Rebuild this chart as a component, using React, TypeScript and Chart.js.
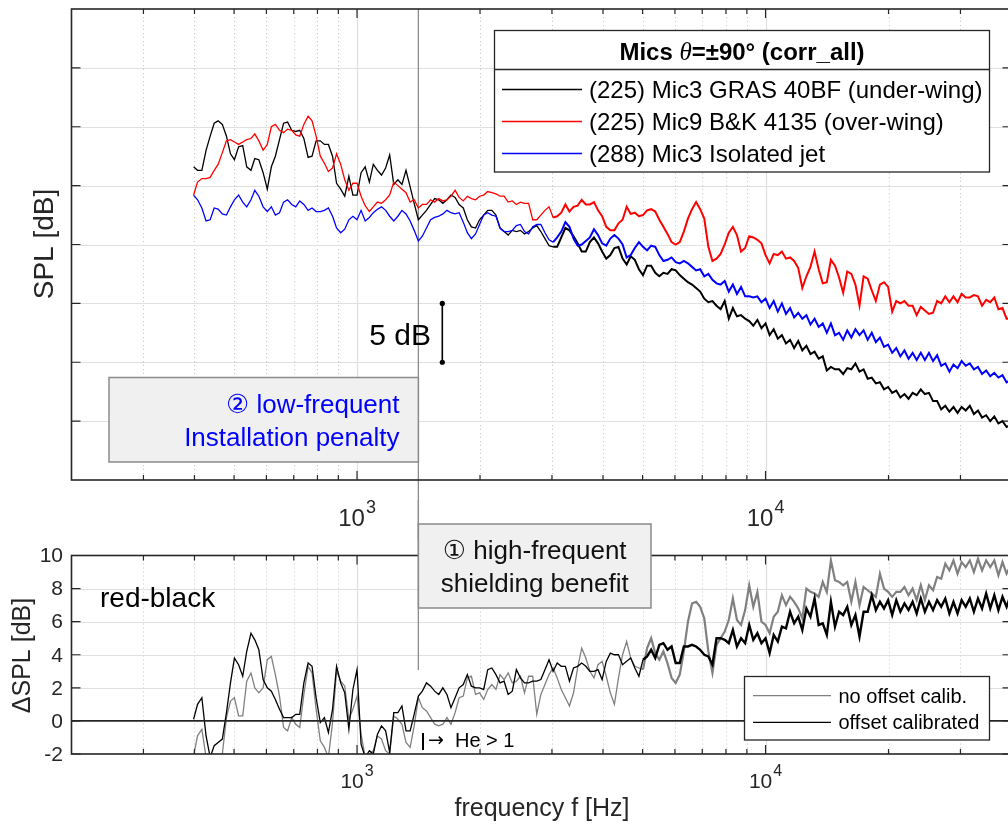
import React, { useEffect, useRef } from "react";
import { Chart, registerables } from "chart.js";

Chart.register(...registerables);

// ---------------- data ----------------
const FREQ_HZ = [
  398, 407, 417, 427, 437, 447, 457, 468, 479, 490,
  501, 513, 525, 537, 550, 562, 575, 589, 603, 617,
  631, 646, 661, 676, 692, 708, 724, 741, 759, 776,
  794, 813, 832, 851, 871, 891, 912, 933, 955, 977,
  1000, 1023, 1047, 1072, 1096, 1122, 1148, 1175, 1202, 1230,
  1259, 1288, 1318, 1349, 1380, 1413, 1445, 1479, 1514, 1549,
  1585, 1622, 1660, 1698, 1738, 1778, 1820, 1862, 1905, 1950,
  1995, 2042, 2089, 2138, 2188, 2239, 2291, 2344, 2399, 2455,
  2512, 2570, 2630, 2692, 2754, 2818, 2884, 2951, 3020, 3090,
  3162, 3236, 3311, 3388, 3467, 3548, 3631, 3715, 3802, 3890,
  3981, 4074, 4169, 4266, 4365, 4467, 4571, 4677, 4786, 4898,
  5012, 5129, 5248, 5370, 5495, 5623, 5754, 5888, 6026, 6166,
  6310, 6457, 6607, 6761, 6918, 7079, 7244, 7413, 7586, 7762,
  7943, 8128, 8318, 8511, 8710, 8913, 9120, 9333, 9550, 9772,
  10000, 10233, 10471, 10715, 10965, 11220, 11482, 11749, 12023, 12303,
  12589, 12882, 13183, 13490, 13804, 14125, 14454, 14791, 15136, 15488,
  15849, 16218, 16596, 16982, 17378, 17783, 18197, 18621, 19055, 19498,
  19953, 20417, 20893, 21380, 21878, 22387, 22909, 23442, 23988, 24547,
  25119, 25704, 26303, 26915, 27542, 28184, 28840, 29512, 30200, 30903,
  31623, 32359, 33113, 33884, 34674, 35481, 36308, 37154, 38019, 38905,
  39811,
];

// (225) Mic3 GRAS 40BF (under-wing)  [dB]
const SPL_UNDER_WING = [
  66.6, 66.3, 66.3, 68.0, 69.2, 70.3, 70.5, 70.2, 69.2, 67.7,
  67.2, 68.3, 68.4, 66.6, 66.3, 67.3, 67.2, 66.1, 64.7, 66.6,
  67.5, 68.9, 70.3, 70.4, 69.7, 69.6, 69.7, 69.0, 67.4, 67.5,
  68.8, 68.8, 68.5, 68.5, 67.5, 65.2, 64.7, 64.1, 65.8, 64.2,
  64.2, 66.1, 66.6, 65.3, 66.8, 66.3, 65.9, 66.5, 67.6, 65.1,
  65.5, 65.1, 66.3, 64.9, 63.5, 62.1, 62.5, 62.9, 63.4, 63.9,
  63.8, 63.5, 63.8, 64.2, 64.0, 63.4, 63.1, 62.1, 61.5, 61.4,
  62.1, 62.5, 62.9, 62.9, 62.5, 61.4, 61.1, 60.8, 61.2, 61.1,
  61.2, 60.9, 61.1, 61.4, 61.6, 61.1, 60.5, 59.9, 59.8, 59.8,
  60.6, 61.4, 61.2, 60.7, 60.1, 59.4, 59.4, 60.2, 60.6, 60.1,
  59.4, 58.8, 59.1, 59.7, 59.8, 58.8, 58.3, 59.0, 58.7, 57.9,
  57.4, 58.2, 58.2, 57.6, 57.3, 57.6, 57.5, 57.9, 57.8, 57.4,
  57.1, 56.8, 56.6, 56.3, 56.0, 55.4, 55.1, 55.2, 54.8, 54.5,
  55.2, 53.7, 54.6, 53.9, 54.0, 53.7, 53.5, 53.1, 53.6, 52.9,
  53.3, 52.3, 52.8, 52.0, 52.3, 51.6, 51.9, 51.2, 51.8, 51.0,
  51.4, 50.7, 50.9, 50.3, 50.5, 49.3, 49.6, 49.4, 49.4, 49.0,
  49.5, 49.4, 49.9, 49.2, 49.4, 48.6, 48.7, 48.2, 48.3, 47.7,
  47.9, 47.4, 47.6, 47.0, 47.3, 46.9, 47.4, 47.2, 47.7, 47.3,
  47.4, 46.7, 46.7, 46.0, 46.3, 45.8, 46.2, 45.7, 46.2, 45.9,
  46.3, 45.6, 45.9, 45.3, 45.5, 45.0, 45.4, 44.8, 45.0, 44.5,
  44.7,
];

// (225) Mic9 B&K 4135 (over-wing)  [dB]
const SPL_OVER_WING = [
  64.2, 65.3, 65.6, 65.6, 65.7, 66.3, 66.8, 67.8, 68.8, 68.9,
  68.7, 68.5, 68.7, 68.9, 69.0, 69.4, 68.8, 68.0, 68.5, 70.0,
  70.2, 69.7, 69.5, 69.8, 69.7, 69.3, 69.2, 70.2, 70.9, 70.5,
  69.2, 67.5, 66.9, 66.2, 66.5, 67.7, 66.8, 65.5, 64.6, 65.2,
  65.2, 64.1, 63.3, 62.8, 63.2, 63.6, 63.5, 63.8, 64.2, 65.3,
  65.0, 64.7, 64.4, 63.6, 63.8, 63.1, 63.4, 63.4, 63.8, 63.6,
  63.9, 63.7, 63.8, 64.1, 64.6, 64.0, 63.7, 64.1, 63.9, 63.8,
  64.1, 64.2, 64.5, 64.4, 64.3, 64.1, 64.1, 63.6, 63.7, 63.4,
  63.6, 63.5, 63.5, 62.1, 62.1, 62.5, 62.9, 63.2, 62.3, 62.4,
  62.7, 63.4, 62.8, 63.2, 63.3, 63.8, 63.4, 63.4, 63.6, 62.9,
  62.4, 61.5, 61.2, 61.2, 61.8, 62.1, 63.2, 62.6, 62.7, 62.4,
  62.5, 62.9, 63.0, 62.8, 62.1, 61.5, 60.9, 60.2, 60.0, 60.2,
  61.1, 62.2, 63.0, 63.6, 63.0, 62.2, 59.8, 58.6, 58.8, 59.2,
  60.0, 61.0, 61.5, 60.8, 59.4, 59.7, 60.7, 60.6, 60.4, 60.1,
  59.1, 58.4, 59.2, 59.1, 59.4, 58.8, 58.9, 58.6, 58.0, 56.3,
  57.3, 58.1, 59.4, 57.9, 56.7, 56.8, 58.7, 58.2, 57.2, 55.9,
  57.7, 57.5, 56.6, 54.8, 57.3, 57.1, 56.1, 55.2, 56.6, 56.8,
  56.4, 54.3, 55.2, 55.0, 55.2, 54.8, 54.8, 54.0, 54.7, 54.4,
  54.1, 54.2, 55.2, 55.0, 55.6, 55.1, 55.6, 55.1, 55.8, 55.5,
  55.5, 55.7, 55.6, 54.8, 55.3, 55.1, 55.5, 54.5, 54.6, 53.7,
  53.7,
];

// (288) Mic3 Isolated jet  [dB]
const SPL_ISOLATED = [
  64.2, 63.8, 63.1, 62.0, 62.1, 63.1, 63.0, 62.6, 62.5, 63.2,
  63.8, 64.2, 63.6, 63.2, 63.8, 64.6, 64.1, 63.2, 62.8, 63.2,
  62.5, 62.7, 63.6, 63.8, 63.4, 63.2, 63.7, 63.4, 62.9, 63.1,
  62.8, 62.8, 62.9, 63.1, 62.4, 61.4, 61.0, 61.3, 62.1, 62.4,
  62.1, 62.9, 62.0, 62.3, 62.7, 63.0, 63.2, 62.9, 62.4, 62.0,
  62.4, 62.9, 62.6, 62.0, 61.2, 60.3, 60.7, 61.4, 62.1, 62.3,
  62.4, 62.6, 62.9, 62.7, 62.6, 62.7, 61.9, 61.0, 60.5, 60.9,
  61.7, 62.5, 62.7, 62.5, 62.4, 61.4, 61.1, 61.1, 61.2, 61.6,
  61.7, 61.1, 60.9, 61.5, 61.7, 61.7, 61.0, 60.4, 60.2, 60.6,
  61.1, 61.9, 61.5, 60.5, 59.9, 60.0, 60.3, 60.6, 61.3, 60.8,
  60.1, 59.9, 60.5, 60.8, 60.5, 60.0, 58.9, 59.1, 59.7, 60.2,
  59.8, 59.5, 59.9, 59.8, 59.1, 58.6, 58.7, 58.9, 58.5, 58.4,
  58.6, 58.4, 58.1, 57.8, 57.9, 57.3, 57.5, 57.0, 56.7, 56.6,
  56.9, 56.0, 56.6, 55.8, 56.4, 55.6, 55.6, 55.5, 55.6, 55.1,
  55.4, 54.6, 55.2, 54.3, 55.0, 54.1, 54.6, 53.8, 54.2, 53.7,
  54.0, 53.2, 53.7, 53.0, 53.3, 52.5, 53.3, 52.3, 52.5, 51.9,
  52.7, 52.1, 52.8, 52.3, 52.7, 51.9, 52.5, 51.7, 52.1, 51.3,
  51.5, 50.8, 51.2, 50.5, 51.0, 50.3, 50.8, 50.2, 50.8, 50.2,
  50.8, 50.1, 50.6, 49.7, 49.9, 49.2, 49.8, 49.5, 50.1, 49.7,
  49.9, 49.4, 49.6, 49.0, 49.3, 48.8, 49.1, 48.7, 48.9, 48.3,
  48.5,
];

// red-black, no offset calib.  [dB]
const DSPL_NO_OFFSET = [
  -2.1, -0.9, -0.5, -2.2, -2.4, -2.4, -2.4, -2.0, 0.2, 1.2,
  1.4, 0.3, 0.3, 2.4, 2.9, 2.0, 1.7, 2.0, 3.7, 3.9,
  2.8, 1.5, -0.4, -0.6, 0.2, -0.2, -0.4, 1.6, 3.3, 2.9,
  0.7, -1.2, -1.6, -2.2, -0.1, 3.0, 2.4, 2.1, 0.1, 0.7,
  1.5, -0.8, -2.2, -2.0, -1.8, -0.9, -1.1, -1.8, -2.0, 0.3,
  0.1, -0.2, -1.3, -1.6, -0.3, 1.4, 0.8, 0.6, 0.2, -0.2,
  -0.3, -0.2, 0.2, -0.2, 0.5, 1.4, 1.5, 2.6, 2.7, 1.6,
  1.7, 1.3, 1.9, 2.2, 1.9, 2.8, 2.5, 2.9, 2.3, 2.4,
  2.7, 1.7, 2.7, 2.7, 0.4, 1.6, 2.2, 2.8, 3.2, 2.6,
  1.9, 1.4, 0.9, 1.7, 3.2, 4.4, 3.8, 3.0, 2.6, 3.4,
  3.6, 2.7, 1.7, 1.0, 2.6, 4.0, 4.8, 3.8, 3.3, 3.2,
  3.1, 4.4, 5.0, 4.1, 3.7, 4.2, 3.5, 2.6, 2.3, 2.8,
  4.2, 6.0, 7.1, 7.2, 6.9, 6.2, 4.2, 2.9, 4.6, 5.0,
  5.4, 6.1, 7.4, 6.1, 5.8, 6.7, 8.2, 6.9, 7.8, 6.0,
  5.8, 5.3, 6.3, 6.6, 7.6, 7.0, 7.5, 7.2, 6.8, 6.2,
  8.0, 7.8, 7.7, 7.5, 8.4, 7.8, 9.7, 8.5, 8.4, 8.2,
  8.4, 7.2, 8.4, 7.0, 8.1, 7.9, 7.7, 7.5, 8.9, 8.0,
  7.8, 7.5, 7.8, 7.8, 8.1, 7.6, 8.0, 7.3, 8.2, 7.3,
  8.2, 7.9, 8.7, 8.6, 9.5, 9.1, 9.7, 8.9, 9.6, 9.3,
  9.7, 9.0, 9.8, 9.1, 9.7, 9.3, 9.7, 8.8, 9.6, 8.9,
  9.4,
];

// red-black, offset calibrated  [dB]
const DSPL_OFFSET_CAL = [
  0.1, 1.0, 1.4, -0.9, -2.2, -1.5, -1.3, -1.1, 0.5, 2.3,
  3.8, 3.4, 2.7, 4.2, 5.3, 4.9, 4.3, 2.5, 2.0, 1.8,
  1.3, 0.7, 0.2, 0.2, 0.2, 0.4, 0.4, 2.3, 3.5, 3.3,
  1.4, -0.1, 0.2, -0.7, 0.7, 3.3, 2.3, 1.7, -0.5, 1.9,
  3.1, -1.4, -2.2, -1.8, -2.0, -0.8, -0.3, -0.6, -1.9, 0.5,
  0.5, 0.9, -0.6, -0.6, 0.4, 1.5, 1.8, 2.3, 2.1, 1.8,
  1.6, 2.0, 1.6, 0.8, 1.4, 2.0, 2.2, 2.8, 2.1, 2.0,
  2.0, 1.9, 3.1, 3.2, 2.8, 2.3, 2.4, 1.6, 1.8, 3.1,
  2.6, 2.3, 2.3, 2.4, 2.4, 2.5, 3.1, 3.7, 3.0, 3.5,
  3.3, 3.3, 2.4, 3.2, 3.3, 3.5, 3.3, 3.0, 3.0, 3.1,
  2.5, 3.6, 4.1, 4.0, 4.0, 3.4, 3.6, 3.8, 3.2, 2.7,
  3.7, 3.9, 4.3, 3.8, 4.6, 4.7, 4.3, 4.5, 3.5, 3.5,
  4.5, 4.5, 4.6, 4.5, 4.3, 4.0, 3.9, 3.4, 5.0, 5.0,
  4.9, 4.7, 5.5, 4.5, 5.0, 4.7, 5.8, 4.9, 5.3, 4.7,
  5.0, 4.1, 5.2, 4.8, 5.7, 5.6, 6.6, 5.9, 6.3, 5.5,
  6.8, 6.3, 7.4, 5.8, 5.9, 5.2, 7.2, 5.7, 6.6, 6.4,
  6.9, 5.8, 6.4, 5.1, 6.6, 6.6, 7.6, 6.7, 7.2, 6.8,
  7.3, 6.4, 7.3, 6.6, 7.1, 6.7, 7.2, 6.5, 7.4, 6.6,
  7.2, 6.7, 7.3, 6.9, 7.4, 6.5, 7.2, 6.5, 7.3, 6.9,
  7.4, 6.6, 7.4, 6.8, 7.7, 6.8, 7.6, 6.7, 7.5, 6.9,
  7.6,
];

// axes / labels
const X_MIN = 200;
const X_MAX = 40000;
const X_DECADES = [1000, 10000];
const X_DECADE_EXP = ["3", "4"];
const X_MINOR = [300, 400, 500, 600, 700, 800, 900, 2000, 3000, 4000, 5000, 6000, 7000, 8000, 9000, 20000, 30000];
const TOP_Y_MIN = 40;
const TOP_Y_MAX = 80;
const TOP_Y_TICKS = [45, 50, 55, 60, 65, 70, 75];
const BOT_Y_MIN = -2;
const BOT_Y_MAX = 10;
const BOT_Y_TICKS = [-2, 0, 2, 4, 6, 8, 10];
const BOT_Y_GRID = [2, 4, 6, 8];
const HE_THRESHOLD_HZ = 1413;
const SCALE_BAR_HZ = 1617;
const SCALE_BAR_DB = [50, 55];
// above these frequencies the measured spectra are dense (drawn as a band)
const TOP_BAND_FROM_HZ = 3000;
const BOT_BAND_FROM_HZ = 5000;

const TOP_LEGEND_TITLE = ["Mics ", "θ", "=±90° (corr_all)"];
const TOP_LEGEND = [
  "(225) Mic3 GRAS 40BF (under-wing)",
  "(225) Mic9 B&K 4135 (over-wing)",
  "(288) Mic3 Isolated jet",
];
const BOT_LEGEND = ["no offset calib.", "offset calibrated"];

// ---------------- styles ----------------
const FONT = '"Liberation Sans", Arial, "DejaVu Sans", sans-serif';
const AXIS_COLOR = "#262626";
const MAJOR_GRID = "#e0e0e0";
const MINOR_GRID = "#c4c4c4";
const THRESH_COLOR = "#8c8c8c";
const C_BLACK = "#000000";
const C_RED = "#ff0000";
const C_BLUE = "#0000ff";
const C_GRAY = "#808080";
const BOT_OFFSET = 500;

function series(ys: number[]) {
  return FREQ_HZ.map((f, i) => ({ x: f, y: ys[i] }));
}

function ds(label: string, ys: number[], color: string, order: number, width: number, bandFrom: number, bandWidth: number) {
  return {
    label,
    data: series(ys),
    borderColor: color,
    backgroundColor: color,
    borderWidth: width,
    pointRadius: 0,
    tension: 0,
    fill: false,
    order,
    segment: {
      borderWidth: (c: any) => (c.p0.parsed.x >= bandFrom ? bandWidth : width),
    },
  };
}

function drawGrid(chart: any, yGrid: number[]) {
  const { ctx, chartArea: a } = chart;
  const xs = chart.scales.x;
  const ys = chart.scales.y;
  ctx.save();
  ctx.lineWidth = 1;
  ctx.strokeStyle = MINOR_GRID;
  ctx.setLineDash([1, 3]);
  ctx.beginPath();
  for (const f of X_MINOR) {
    const p = Math.round(xs.getPixelForValue(f)) + 0.5;
    ctx.moveTo(p, a.top);
    ctx.lineTo(p, a.bottom);
  }
  ctx.stroke();
  ctx.setLineDash([]);
  ctx.strokeStyle = MAJOR_GRID;
  ctx.lineWidth = 1.2;
  ctx.beginPath();
  for (const f of X_DECADES) {
    const p = Math.round(xs.getPixelForValue(f)) + 0.5;
    ctx.moveTo(p, a.top);
    ctx.lineTo(p, a.bottom);
  }
  for (const v of yGrid) {
    const p = Math.round(ys.getPixelForValue(v)) + 0.5;
    ctx.moveTo(a.left, p);
    ctx.lineTo(a.right, p);
  }
  ctx.stroke();
  ctx.restore();
}

function drawFrame(chart: any, yTicks: number[]) {
  const { ctx, chartArea: a } = chart;
  const xs = chart.scales.x;
  const ys = chart.scales.y;
  ctx.save();
  ctx.strokeStyle = AXIS_COLOR;
  ctx.lineWidth = 1.2;
  ctx.beginPath();
  for (const f of X_MINOR) {
    const p = xs.getPixelForValue(f);
    ctx.moveTo(p, a.bottom);
    ctx.lineTo(p, a.bottom - 5);
    ctx.moveTo(p, a.top);
    ctx.lineTo(p, a.top + 5);
  }
  for (const f of X_DECADES) {
    const p = xs.getPixelForValue(f);
    ctx.moveTo(p, a.bottom);
    ctx.lineTo(p, a.bottom - 9);
    ctx.moveTo(p, a.top);
    ctx.lineTo(p, a.top + 9);
  }
  for (const v of yTicks) {
    const p = ys.getPixelForValue(v);
    ctx.moveTo(a.left, p);
    ctx.lineTo(a.left + 9, p);
    ctx.moveTo(a.right, p);
    ctx.lineTo(a.right - 9, p);
  }
  ctx.stroke();
  ctx.lineWidth = 1.6;
  ctx.strokeRect(a.left, a.top, a.right - a.left, a.bottom - a.top);
  ctx.restore();
}

function drawDecadeLabels(chart: any, baseY: number, big: number, sup: number) {
  const { ctx } = chart;
  const xs = chart.scales.x;
  ctx.save();
  ctx.fillStyle = AXIS_COLOR;
  ctx.textBaseline = "alphabetic";
  ctx.textAlign = "left";
  X_DECADES.forEach((f, i) => {
    const cx = xs.getPixelForValue(f);
    ctx.font = `${big}px ${FONT}`;
    const w1 = ctx.measureText("10").width;
    ctx.font = `${sup}px ${FONT}`;
    const w2 = ctx.measureText(X_DECADE_EXP[i]).width;
    const start = cx - (w1 + w2 + 1) / 2;
    ctx.font = `${big}px ${FONT}`;
    ctx.fillText("10", start, baseY);
    ctx.font = `${sup}px ${FONT}`;
    ctx.fillText(X_DECADE_EXP[i], start + w1 + 1, baseY - big * 0.55);
  });
  ctx.restore();
}

function rotatedText(ctx: any, s: string, x: number, y: number, font: string) {
  ctx.save();
  ctx.translate(x, y);
  ctx.rotate(-Math.PI / 2);
  ctx.font = font;
  ctx.fillStyle = AXIS_COLOR;
  ctx.textAlign = "center";
  ctx.textBaseline = "middle";
  ctx.fillText(s, 0, 0);
  ctx.restore();
}

function box(ctx: any, x0: number, y0: number, x1: number, y1: number, fill: string, stroke: string, lw: number) {
  ctx.save();
  ctx.fillStyle = fill;
  ctx.fillRect(x0, y0, x1 - x0, y1 - y0);
  ctx.strokeStyle = stroke;
  ctx.lineWidth = lw;
  ctx.strokeRect(x0, y0, x1 - x0, y1 - y0);
  ctx.restore();
}

const topDecor = {
  id: "topDecor",
  beforeDatasetsDraw(chart: any) {
    drawGrid(chart, TOP_Y_TICKS);
    const { ctx, chartArea: a } = chart;
    const xh = chart.scales.x.getPixelForValue(HE_THRESHOLD_HZ);
    ctx.save();
    ctx.strokeStyle = THRESH_COLOR;
    ctx.lineWidth = 1.3;
    ctx.beginPath();
    ctx.moveTo(xh, a.top);
    ctx.lineTo(xh, chart.height);
    ctx.stroke();
    ctx.restore();
  },
  afterDatasetsDraw(chart: any) {
    const { ctx } = chart;
    const xs = chart.scales.x;
    const ys = chart.scales.y;
    drawFrame(chart, TOP_Y_TICKS);
    drawDecadeLabels(chart, 526, 24, 18);
    rotatedText(ctx, "SPL [dB]", 45, 244, `28px ${FONT}`);

    // 5 dB scale bar
    const bx = xs.getPixelForValue(SCALE_BAR_HZ);
    const by0 = ys.getPixelForValue(SCALE_BAR_DB[0]);
    const by1 = ys.getPixelForValue(SCALE_BAR_DB[1]);
    ctx.save();
    ctx.strokeStyle = "#000";
    ctx.fillStyle = "#000";
    ctx.lineWidth = 1.6;
    ctx.beginPath();
    ctx.moveTo(bx, by0);
    ctx.lineTo(bx, by1);
    ctx.stroke();
    for (const yy of [by0, by1]) {
      ctx.beginPath();
      ctx.arc(bx, yy, 2.6, 0, Math.PI * 2);
      ctx.fill();
    }
    ctx.font = `30px ${FONT}`;
    ctx.textAlign = "right";
    ctx.textBaseline = "alphabetic";
    ctx.fillText("5 dB", 431, 345);
    ctx.restore();

    // low-frequent annotation box
    const xh = xs.getPixelForValue(HE_THRESHOLD_HZ);
    box(ctx, 109, 377.5, xh, 462, "#f0f0f0", "#8a8a8a", 1.5);
    ctx.save();
    ctx.fillStyle = "#0000ff";
    ctx.font = `26px ${FONT}`;
    ctx.textAlign = "right";
    ctx.textBaseline = "alphabetic";
    ctx.fillText("② low-frequent", 399.5, 412.5);
    ctx.fillText("Installation penalty", 399.5, 445.5);
    ctx.restore();

    // legend
    const L = { l: 494.5, t: 30.5, r: 989.5, b: 172, h: 69.5 };
    box(ctx, L.l, L.t, L.r, L.b, "#ffffff", AXIS_COLOR, 1.3);
    ctx.save();
    ctx.strokeStyle = AXIS_COLOR;
    ctx.lineWidth = 1.3;
    ctx.beginPath();
    ctx.moveTo(L.l, L.h);
    ctx.lineTo(L.r, L.h);
    ctx.stroke();
    const fB = `bold 24px ${FONT}`;
    const fI = `italic 25px "Liberation Serif", "DejaVu Serif", serif`;
    ctx.font = fB;
    const w0 = ctx.measureText(TOP_LEGEND_TITLE[0]).width;
    const w2 = ctx.measureText(TOP_LEGEND_TITLE[2]).width;
    ctx.font = fI;
    const w1 = ctx.measureText(TOP_LEGEND_TITLE[1]).width;
    const sx = (L.l + L.r) / 2 - (w0 + w1 + w2) / 2;
    ctx.fillStyle = "#000";
    ctx.textAlign = "left";
    ctx.textBaseline = "alphabetic";
    ctx.font = fB;
    ctx.fillText(TOP_LEGEND_TITLE[0], sx, 60);
    ctx.font = fI;
    ctx.fillText(TOP_LEGEND_TITLE[1], sx + w0, 60);
    ctx.font = fB;
    ctx.fillText(TOP_LEGEND_TITLE[2], sx + w0 + w1, 60);
    const colors = [C_BLACK, C_RED, C_BLUE];
    ctx.font = `24px ${FONT}`;
    TOP_LEGEND.forEach((s, i) => {
      const yy = 89.5 + 32 * i;
      ctx.strokeStyle = colors[i];
      ctx.lineWidth = 1.3;
      ctx.beginPath();
      ctx.moveTo(502, yy);
      ctx.lineTo(582, yy);
      ctx.stroke();
      ctx.fillStyle = "#000";
      ctx.fillText(s, 589, 98.3 + 32 * i);
    });
    ctx.restore();
  },
};

const botDecor = {
  id: "botDecor",
  beforeDatasetsDraw(chart: any) {
    drawGrid(chart, BOT_Y_GRID);
    const { ctx } = chart;
    const xh = chart.scales.x.getPixelForValue(HE_THRESHOLD_HZ);
    ctx.save();
    ctx.strokeStyle = THRESH_COLOR;
    ctx.lineWidth = 1.3;
    ctx.beginPath();
    ctx.moveTo(xh, 0);
    ctx.lineTo(xh, 670 - BOT_OFFSET);
    ctx.stroke();
    ctx.restore();
  },
  afterDatasetsDraw(chart: any) {
    const { ctx, chartArea: a } = chart;
    const xs = chart.scales.x;
    const ys = chart.scales.y;
    const O = BOT_OFFSET;
    // zero line
    const y0 = ys.getPixelForValue(0);
    ctx.save();
    ctx.strokeStyle = AXIS_COLOR;
    ctx.lineWidth = 1.6;
    ctx.beginPath();
    ctx.moveTo(a.left, y0);
    ctx.lineTo(a.right, y0);
    ctx.stroke();
    ctx.restore();

    drawFrame(chart, BOT_Y_TICKS);
    drawDecadeLabels(chart, 788 - O, 21, 16);

    // y tick labels
    ctx.save();
    ctx.fillStyle = AXIS_COLOR;
    ctx.font = `21px ${FONT}`;
    ctx.textAlign = "right";
    ctx.textBaseline = "middle";
    for (const v of BOT_Y_TICKS) ctx.fillText(String(v), 63, ys.getPixelForValue(v) + 1);
    ctx.restore();
    rotatedText(ctx, "ΔSPL [dB]", 23, 655.5 - O, `25px ${FONT}`);

    ctx.save();
    ctx.fillStyle = AXIS_COLOR;
    ctx.font = `25px ${FONT}`;
    ctx.textAlign = "center";
    ctx.textBaseline = "alphabetic";
    ctx.fillText("frequency f [Hz]", 542, 816 - O);
    ctx.fillStyle = "#000";
    ctx.font = `28px ${FONT}`;
    ctx.textAlign = "left";
    ctx.fillText("red-black", 100, 607 - O);
    // |-> He > 1
    ctx.strokeStyle = "#000";
    ctx.lineWidth = 2;
    ctx.beginPath();
    ctx.moveTo(423, 733 - O);
    ctx.lineTo(423, 750 - O);
    ctx.stroke();
    ctx.font = `19px "DejaVu Sans", ${FONT}`;
    ctx.fillText("→", 428, 746 - O);
    ctx.font = `20px ${FONT}`;
    ctx.fillText("He > 1", 455, 746.5 - O);
    ctx.restore();

    // high-frequent box
    const xh = xs.getPixelForValue(HE_THRESHOLD_HZ);
    box(ctx, xh, 524 - O, 651, 608 - O, "#f0f0f0", "#8a8a8a", 1.5);
    ctx.save();
    ctx.fillStyle = "#111";
    ctx.font = `26px ${FONT}`;
    ctx.textAlign = "center";
    ctx.textBaseline = "alphabetic";
    const cx = (xh + 651) / 2;
    ctx.fillText("① high-frequent", cx, 558.5 - O);
    ctx.fillText("shielding benefit", cx, 592 - O);
    ctx.restore();

    // legend
    box(ctx, 744.5, 676.5 - O, 989.5, 740 - O, "#ffffff", AXIS_COLOR, 1.3);
    ctx.save();
    const cols = [C_GRAY, C_BLACK];
    ctx.font = `20px ${FONT}`;
    ctx.textAlign = "left";
    ctx.textBaseline = "alphabetic";
    BOT_LEGEND.forEach((s, i) => {
      const yy = [695.7, 722.3][i] - O;
      ctx.strokeStyle = cols[i];
      ctx.lineWidth = 1.3;
      ctx.beginPath();
      ctx.moveTo(753, yy);
      ctx.lineTo(831, yy);
      ctx.stroke();
      ctx.fillStyle = "#000";
      ctx.fillText(s, 838.5, [702.7, 729][i] - O);
    });
    ctx.restore();
  },
};

function baseOptions(yMin: number, yMax: number, padding: any) {
  return {
    responsive: false,
    animation: false,
    devicePixelRatio: 1,
    events: [],
    layout: { padding },
    scales: {
      x: { type: "logarithmic", min: X_MIN, max: X_MAX, display: false },
      y: { type: "linear", min: yMin, max: yMax, display: false },
    },
    plugins: {
      legend: { display: false },
      tooltip: { enabled: false },
      title: { display: false },
    },
  };
}

export default function App() {
  const topRef = useRef<HTMLCanvasElement>(null);
  const botRef = useRef<HTMLCanvasElement>(null);

  useEffect(() => {
    const top = new Chart(topRef.current as HTMLCanvasElement, {
      type: "line",
      data: {
        datasets: [
          ds(TOP_LEGEND[0], SPL_UNDER_WING, C_BLACK, 2, 1.3, TOP_BAND_FROM_HZ, 2.0),
          ds(TOP_LEGEND[1], SPL_OVER_WING, C_RED, 1, 1.3, TOP_BAND_FROM_HZ, 2.0),
          ds(TOP_LEGEND[2], SPL_ISOLATED, C_BLUE, 0, 1.3, TOP_BAND_FROM_HZ, 2.0),
        ],
      },
      options: baseOptions(TOP_Y_MIN, TOP_Y_MAX, { left: 71.5, top: 9, right: 18.5, bottom: 60 }) as any,
      plugins: [topDecor],
    } as any);
    const bot = new Chart(botRef.current as HTMLCanvasElement, {
      type: "line",
      data: {
        datasets: [
          ds(BOT_LEGEND[0], DSPL_NO_OFFSET, C_GRAY, 1, 1.3, BOT_BAND_FROM_HZ, 2.2),
          ds(BOT_LEGEND[1], DSPL_OFFSET_CAL, C_BLACK, 0, 1.3, BOT_BAND_FROM_HZ, 2.4),
        ],
      },
      options: baseOptions(BOT_Y_MIN, BOT_Y_MAX, { left: 71.5, top: 55.5, right: 18.5, bottom: 72 }) as any,
      plugins: [botDecor],
    } as any);
    return () => {
      top.destroy();
      bot.destroy();
    };
  }, []);

  return (
    <div
      style={{
        position: "fixed",
        left: 0,
        top: 0,
        width: 1008,
        height: 826,
        overflow: "hidden",
        background: "#ffffff",
      }}
    >
      <canvas
        ref={topRef}
        width={1030}
        height={540}
        style={{ position: "absolute", left: 0, top: 0, width: 1030, height: 540 }}
      />
      <canvas
        ref={botRef}
        width={1030}
        height={326}
        style={{ position: "absolute", left: 0, top: BOT_OFFSET, width: 1030, height: 326 }}
      />
    </div>
  );
}
